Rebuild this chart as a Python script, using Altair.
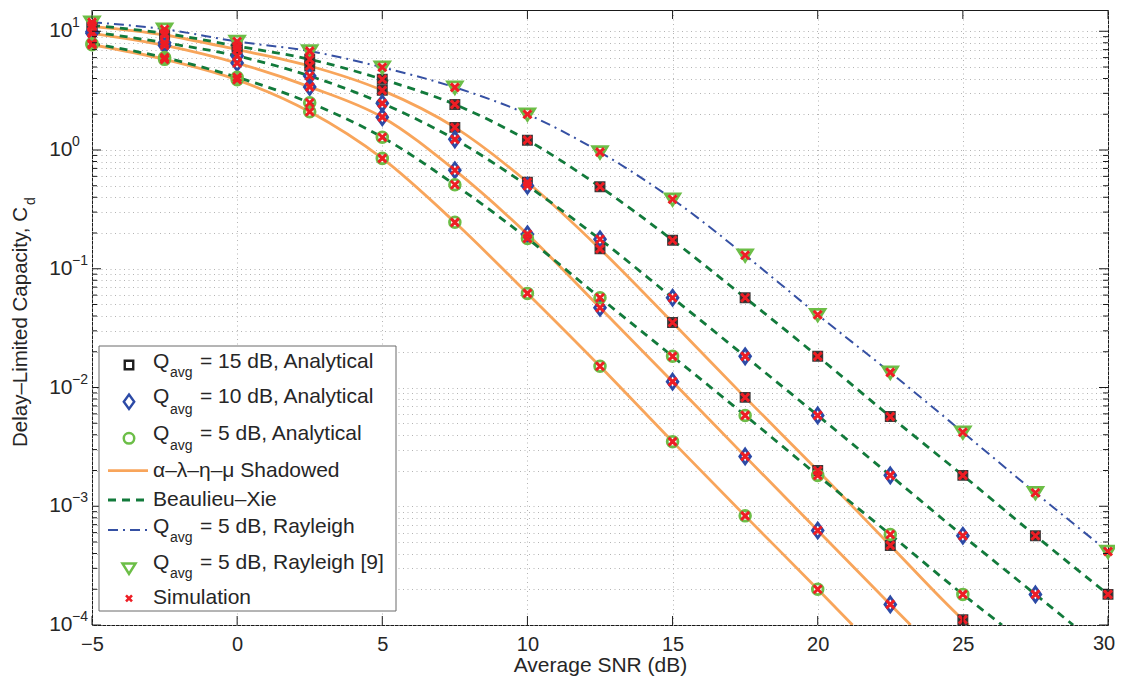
import altair as alt
import pandas as pd

# ---------------- data ----------------
SNR_DB = [-5, -2.5, 0, 2.5, 5, 7.5, 10, 12.5, 15, 17.5, 20, 22.5, 25, 27.5, 30]

# alpha-lambda-eta-mu shadowed (orange solid), Q_avg = 15, 10, 5 dB
SHADOWED_Q15 = [11.0, 9.3, 7.0, 5.1, 3.18, 1.55, 0.535, 0.147, 0.0353, 0.00826, 0.00200, 0.000468, 0.000111]
SHADOWED_Q10 = [9.6, 7.6, 5.4, 3.4, 1.89, 0.676, 0.195, 0.047, 0.0112, 0.00263, 0.000625, 0.000149]
SHADOWED_Q5 = [7.7, 5.8, 3.9, 2.1, 0.85, 0.246, 0.062, 0.0151, 0.0035, 0.00083, 0.000200]
SHADOWED_EXIT_SNR = [25.2, 23.2, 21.2]  # SNR where each curve leaves the plot at 1e-4

# Beaulieu-Xie (green dashed), Q_avg = 15, 10, 5 dB
BX_Q15 = [11.2, 9.6, 7.5, 5.8, 3.94, 2.42, 1.21, 0.49, 0.174, 0.057, 0.0183, 0.00569, 0.00182, 0.000565, 0.000181]
BX_Q10 = [9.9, 8.0, 6.2, 4.2, 2.47, 1.23, 0.50, 0.177, 0.057, 0.0183, 0.00582, 0.00182, 0.000565, 0.000181]
BX_Q5 = [7.9, 6.0, 4.1, 2.5, 1.28, 0.51, 0.18, 0.057, 0.0183, 0.00582, 0.00182, 0.000578, 0.000181]
BX_EXIT_SNR = [None, 28.8, 26.35]

# Rayleigh, Q_avg = 5 dB (blue dash-dot, triangles)
RAYLEIGH_Q5 = [11.9, 10.4, 8.2, 6.8, 4.97, 3.37, 2.0, 0.96, 0.385, 0.13, 0.041, 0.0134, 0.0042, 0.0013, 0.000416]

X_TICKS = [-5, 0, 5, 10, 15, 20, 25, 30]
X_LAST_LABEL = ["30"]
DECADES = [1e-4, 1e-3, 1e-2, 1e-1, 1e0, 1e1]
DECADE_EXP = ["\u22124", "\u22123", "\u22122", "\u22121", "0", "1"]

Y_MIN, Y_MAX = 1e-4, 15.1
MINOR = [k * d for d in DECADES for k in range(2, 10) if k * d <= Y_MAX]
GRID_Y = sorted(DECADES + MINOR)

# ---------------- styling ----------------
FONT = "Liberation Sans"
TXT = "#262626"
W, H = 1016, 615
ORANGE = "#F8A55B"
DGREEN = "#127A3B"
BLUE = "#3550A3"
DIA_BLUE = "#2C4AA6"
LGREEN = "#6CBE47"
RED = "#EE1D24"
BLACK = "#1E1E1E"
GRIDC = "#b4b4b4"

X_PATH = "M-1,-1L1,1M-1,1L1,-1"
DIA_PATH = "M0,-1L0.72,0L0,1L-0.72,0Z"
TRI_PATH = "M-1,-0.75L1,-0.75L0,0.85Z"

xs = alt.Scale(domain=[-5, 30], nice=False, zero=False)
ys = alt.Scale(type="log", domain=[Y_MIN, Y_MAX], nice=False)

LABEL_PAD = 9
xaxis = alt.Axis(values=X_TICKS, title="Average SNR (dB)", grid=True, gridDash=[1, 3.5],
                 gridColor=GRIDC, ticks=False, domain=False, labelFont=FONT,
                 labelFontSize=20, labelColor=TXT, labelPadding=LABEL_PAD, labelFlush=False,
                 labelOverlap=False, labelExpr="datum.value == 30 ? '' : datum.label",
                 titleFont=FONT, titleFontSize=21,
                 titleFontWeight="normal", titleColor=TXT, titleBaseline="middle", titleY=40)
yaxis = alt.Axis(values=GRID_Y, title=None, grid=True, gridDash=[1, 3.5], gridColor=GRIDC,
                 ticks=False, labels=False, domain=False)


def X(f="x"):
    return alt.X(f, type="quantitative", scale=xs, axis=xaxis)


def Y(f="y"):
    return alt.Y(f, type="quantitative", scale=ys, axis=yaxis)


# ---------------- build tables ----------------
def line_rows(name, vals, exit_snr):
    rows = [{"s": name, "x": x, "y": y} for x, y in zip(SNR_DB, vals)]
    if exit_snr is not None:
        rows.append({"s": name, "x": exit_snr, "y": Y_MIN})
    return rows


sh_sets = [("sh15", SHADOWED_Q15), ("sh10", SHADOWED_Q10), ("sh5", SHADOWED_Q5)]
bx_sets = [("bx15", BX_Q15), ("bx10", BX_Q10), ("bx5", BX_Q5)]

orange_df = pd.DataFrame(sum([line_rows(n, v, e) for (n, v), e in zip(sh_sets, SHADOWED_EXIT_SNR)], []))
green_df = pd.DataFrame(sum([line_rows(n, v, e) for (n, v), e in zip(bx_sets, BX_EXIT_SNR)], []))
blue_df = pd.DataFrame(line_rows("ray", RAYLEIGH_Q5, None))


def pts(vals):
    return [{"x": x, "y": y} for x, y in zip(SNR_DB, vals)]


sq_df = pd.DataFrame(pts(SHADOWED_Q15) + pts(BX_Q15))
dia_df = pd.DataFrame(pts(SHADOWED_Q10) + pts(BX_Q10))
circ_df = pd.DataFrame(pts(SHADOWED_Q5) + pts(BX_Q5))
tri_df = pd.DataFrame(pts(RAYLEIGH_Q5))
sim_df = pd.concat([sq_df, dia_df, circ_df, tri_df], ignore_index=True)

dec_df = pd.DataFrame({"y": DECADES, "exp": DECADE_EXP})
minor_df = pd.DataFrame({"y": MINOR})
xt_df = pd.DataFrame({"x": X_TICKS})
last_df = pd.DataFrame({"x": [X_TICKS[-1]], "lab": X_LAST_LABEL})

layers = []

# curves
layers.append(alt.Chart(orange_df).mark_line(color=ORANGE, strokeWidth=2.8, interpolate="monotone", clip=True)
              .encode(x=X(), y=Y(), detail="s:N"))
layers.append(alt.Chart(green_df).mark_line(color=DGREEN, strokeWidth=2.8, strokeDash=[8, 6], interpolate="monotone", clip=True)
              .encode(x=X(), y=Y(), detail="s:N"))
layers.append(alt.Chart(blue_df).mark_line(color=BLUE, strokeWidth=2, strokeDash=[10, 5, 2, 5], interpolate="monotone", clip=True)
              .encode(x=X(), y=Y()))

# markers
layers.append(alt.Chart(sq_df).mark_point(shape="square", size=80, filled=True, fill="#262626", stroke="#3a3a3a",
                                          strokeWidth=2, opacity=1)
              .encode(x=X(), y=Y()))
layers.append(alt.Chart(dia_df).mark_point(shape=DIA_PATH, size=220, filled=False, color=DIA_BLUE, strokeWidth=2.8, opacity=1)
              .encode(x=X(), y=Y()))
layers.append(alt.Chart(circ_df).mark_point(shape="circle", size=115, filled=False, color=LGREEN, strokeWidth=2.8, opacity=1)
              .encode(x=X(), y=Y()))
layers.append(alt.Chart(tri_df).mark_point(shape=TRI_PATH, size=210, filled=False, color=LGREEN, strokeWidth=2.8, opacity=1)
              .encode(x=X(), y=Y()))
layers.append(alt.Chart(sim_df).mark_point(shape=X_PATH, size=64, filled=False, color=RED, strokeWidth=3, opacity=1)
              .encode(x=X(), y=Y()))

# inward ticks (MATLAB box style)
TK = "#1a1a1a"
layers.append(alt.Chart(dec_df).mark_rule(color=TK, strokeWidth=1).encode(y=Y(), x=alt.value(0), x2=alt.value(9)))
layers.append(alt.Chart(dec_df).mark_rule(color=TK, strokeWidth=1).encode(y=Y(), x=alt.value(W), x2=alt.value(W - 9)))
layers.append(alt.Chart(minor_df).mark_rule(color=TK, strokeWidth=1).encode(y=Y(), x=alt.value(0), x2=alt.value(5)))
layers.append(alt.Chart(minor_df).mark_rule(color=TK, strokeWidth=1).encode(y=Y(), x=alt.value(W), x2=alt.value(W - 5)))
layers.append(alt.Chart(xt_df).mark_rule(color=TK, strokeWidth=1).encode(x=X(), y=alt.value(H), y2=alt.value(H - 9)))
layers.append(alt.Chart(xt_df).mark_rule(color=TK, strokeWidth=1).encode(x=X(), y=alt.value(0), y2=alt.value(9)))

# last x tick label, nudged so it stays inside the page
layers.append(alt.Chart(last_df).mark_text(align="center", baseline="top", font=FONT, fontSize=20, color=TXT, dx=-4)
              .encode(x=X(), y=alt.value(H + LABEL_PAD), text="lab:N"))

# y tick labels 10^n
layers.append(alt.Chart(dec_df).mark_text(text="10", align="right", baseline="middle", font=FONT, fontSize=21, color=TXT)
              .encode(y=Y(), x=alt.value(-19.5)))
layers.append(alt.Chart(dec_df).mark_text(align="left", baseline="middle", font=FONT, fontSize=14, color=TXT, dy=-8)
              .encode(y=Y(), x=alt.value(-20), text="exp:N"))

ONE = alt.Data(values=[{"a": 1}])


def vtext(txt, x, y, size=21, align="left", angle=0):
    return alt.Chart(ONE).mark_text(text=txt, align=align, baseline="middle", font=FONT, fontSize=size,
                                    color=TXT, angle=angle).encode(x=alt.value(x), y=alt.value(y))


# y title with subscript
layers.append(vtext("Delay\u2013Limited Capacity, C", -71, 197, size=20.5, align="right", angle=270))
layers.append(vtext("d", -61, 195, size=14, align="left", angle=270))

# legend
layers.append(alt.Chart(ONE).mark_rect(fill="white", stroke="#6a6a6a", strokeWidth=1)
              .encode(x=alt.value(7), x2=alt.value(304), y=alt.value(336), y2=alt.value(601)))

LX = 37
layers.append(alt.Chart(ONE).mark_point(shape="square", size=72, filled=False, color=BLACK, strokeWidth=2.4, opacity=1)
              .encode(x=alt.value(LX), y=alt.value(355)))
layers.append(alt.Chart(ONE).mark_point(shape=DIA_PATH, size=210, filled=False, color=DIA_BLUE, strokeWidth=2.4, opacity=1)
              .encode(x=alt.value(LX), y=alt.value(391.7)))
layers.append(alt.Chart(ONE).mark_point(shape="circle", size=110, filled=False, color=LGREEN, strokeWidth=2.5, opacity=1)
              .encode(x=alt.value(LX), y=alt.value(428.3)))
layers.append(alt.Chart(ONE).mark_rule(color=ORANGE, strokeWidth=2.8)
              .encode(x=alt.value(16), x2=alt.value(56), y=alt.value(460.7)))
layers.append(alt.Chart(ONE).mark_rule(color=DGREEN, strokeWidth=2.8, strokeDash=[8, 6])
              .encode(x=alt.value(16), x2=alt.value(56), y=alt.value(490)))
layers.append(alt.Chart(ONE).mark_rule(color=BLUE, strokeWidth=2, strokeDash=[10, 5, 2, 5])
              .encode(x=alt.value(16), x2=alt.value(56), y=alt.value(520)))
layers.append(alt.Chart(ONE).mark_point(shape=TRI_PATH, size=170, filled=False, color=LGREEN, strokeWidth=2.5, opacity=1)
              .encode(x=alt.value(LX), y=alt.value(558.3)))
layers.append(alt.Chart(ONE).mark_point(shape=X_PATH, size=36, filled=False, color=RED, strokeWidth=2.6, opacity=1)
              .encode(x=alt.value(LX), y=alt.value(588.3)))

QX, SUBX, RESTX = 61, 78, 108
for main_y, sub_y, rest in [(351.7, 363.3, "= 15 dB, Analytical"),
                            (387.3, 400.0, "= 10 dB, Analytical"),
                            (424.3, 436.0, "= 5 dB, Analytical"),
                            (517.3, 528.3, "= 5 dB, Rayleigh"),
                            (552.7, 564.0, "= 5 dB, Rayleigh [9]")]:
    layers.append(vtext("Q", QX, main_y))
    layers.append(vtext("avg", SUBX, sub_y, size=14))
    layers.append(vtext(rest, RESTX, main_y))
layers.append(vtext("\u03b1\u2013\u03bb\u2013\u03b7\u2013\u03bc Shadowed", QX, 460.7))
layers.append(vtext("Beaulieu\u2013Xie", QX, 490))
layers.append(vtext("Simulation", QX, 588.3))

chart = (alt.layer(*layers)
         .properties(width=W, height=H,
                     padding={"left": 84, "top": 2, "right": 7, "bottom": 51},
                     autosize=alt.AutoSizeParams(type="none"))
         .configure(font=FONT)
         .configure_view(stroke="#1a1a1a", strokeWidth=1))

chart.save("out.html", embed_options={"renderer": "svg", "actions": False})
